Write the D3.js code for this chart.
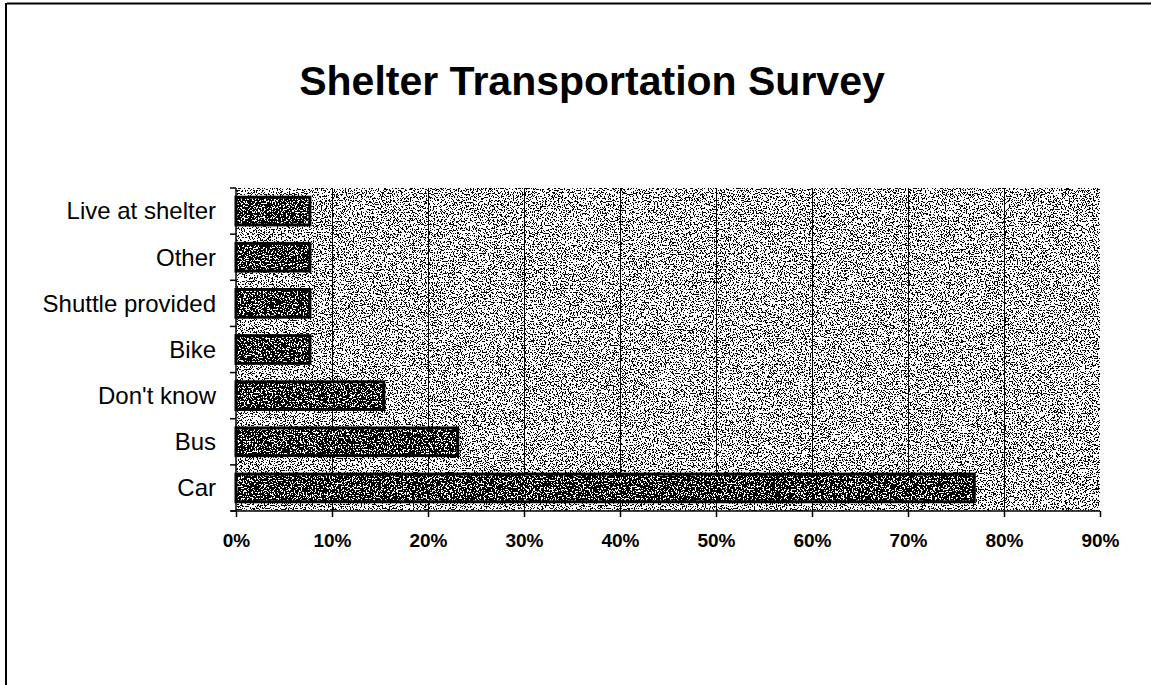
<!DOCTYPE html>
<html>
<head>
<meta charset="utf-8">
<script src="https://cdn.jsdelivr.net/npm/d3@7"></script>
<style>
  body { margin: 0; background: #fff; }
  svg { display: block; font-family: Arial, "Liberation Sans", sans-serif; }
</style>
</head>
<body>
<svg id="chart" width="1151" height="685"></svg>
<script>
// survey answers, top to bottom as drawn
var categories = ['Live at shelter', 'Other', 'Shuttle provided', 'Bike', "Don't know", 'Bus', 'Car'];
var shares = [0.077, 0.077, 0.077, 0.077, 0.154, 0.231, 0.769];
var xTicks = [0, 0.1, 0.2, 0.3, 0.4, 0.5, 0.6, 0.7, 0.8, 0.9];

var data = categories.map(function(c, i) { return { name: c, value: shares[i] }; });

var svg = d3.select('#chart');

var plotLeft = 236, plotRight = 1100, plotTop = 188, plotBottom = 511;

// stipple filters (grainy print look): noise thresholded to black dots
var defs = svg.append('defs');
function stipple(id, threshold, freq) {
  var table = d3.range(100).map(function(i) { return i / 100 < threshold ? 1 : 0; }).join(' ');
  var f = defs.append('filter').attr('id', id)
    .attr('x', 0).attr('y', 0).attr('width', 1).attr('height', 1);
  f.append('feTurbulence').attr('type', 'fractalNoise')
    .attr('baseFrequency', freq).attr('numOctaves', 2).attr('seed', 7).attr('result', 'n');
  f.append('feColorMatrix').attr('in', 'n').attr('type', 'matrix')
    .attr('values', '0 0 0 0 0  0 0 0 0 0  0 0 0 0 0  1 0 0 0 0').attr('result', 'a');
  f.append('feComponentTransfer').attr('in', 'a')
    .append('feFuncA').attr('type', 'discrete').attr('tableValues', table);
}
stipple('stipBg', 0.44, 0.75);
stipple('stipBar', 0.57, 0.65);

var x = d3.scaleLinear().domain([0, 0.9]).range([plotLeft, plotRight]);
var y = d3.scaleBand().domain(categories).range([plotTop, plotBottom])
  .paddingInner(0.4).paddingOuter(0.2);

// outer frame (only top and left edges show)
svg.append('line').attr('x1', 7).attr('x2', 1151).attr('y1', 3.5).attr('y2', 3.5)
  .attr('stroke', '#000').attr('stroke-width', 2);
svg.append('line').attr('x1', 6).attr('x2', 6).attr('y1', 3).attr('y2', 685)
  .attr('stroke', '#000').attr('stroke-width', 2);

// title
svg.append('text')
  .attr('x', 592).attr('y', 95)
  .attr('text-anchor', 'middle')
  .style('font-size', '41px').style('font-weight', 'bold')
  .text('Shelter Transportation Survey');

// plot background
svg.append('rect').attr('x', plotLeft).attr('y', plotTop)
  .attr('width', plotRight - plotLeft).attr('height', plotBottom - plotTop).attr('fill', '#fff');
svg.append('rect').attr('x', plotLeft).attr('y', plotTop)
  .attr('width', plotRight - plotLeft).attr('height', plotBottom - plotTop)
  .attr('fill', '#000').attr('filter', 'url(#stipBg)');

// vertical gridlines
svg.append('g').selectAll('line').data(xTicks.slice(1, -1)).enter()
  .append('line')
  .attr('x1', function(d) { return x(d) + 0.5; }).attr('x2', function(d) { return x(d) + 0.5; })
  .attr('y1', plotTop).attr('y2', plotBottom)
  .attr('stroke', '#000').attr('stroke-width', 1)
  .attr('shape-rendering', 'crispEdges');

// bars
var bars = svg.append('g');
bars.selectAll('.barbase').data(data).enter().append('rect')
  .attr('class', 'barbase')
  .attr('x', x(0)).attr('y', function(d) { return y(d.name); })
  .attr('width', function(d) { return x(d.value) - x(0); })
  .attr('height', y.bandwidth()).attr('fill', '#fff');
bars.selectAll('.bardots').data(data).enter().append('rect')
  .attr('class', 'bardots')
  .attr('x', x(0)).attr('y', function(d) { return y(d.name); })
  .attr('width', function(d) { return x(d.value) - x(0); })
  .attr('height', y.bandwidth()).attr('fill', '#000').attr('filter', 'url(#stipBar)');
bars.selectAll('.barline').data(data).enter().append('rect')
  .attr('class', 'barline')
  .attr('x', x(0)).attr('y', function(d) { return y(d.name); })
  .attr('width', function(d) { return x(d.value) - x(0); })
  .attr('height', y.bandwidth())
  .attr('fill', 'none').attr('stroke', '#000').attr('stroke-width', 3);

// x axis
var xAxis = d3.axisBottom(x).tickValues(xTicks).tickFormat(d3.format('.0%'))
  .tickSize(6).tickPadding(17);
var gx = svg.append('g').attr('transform', 'translate(0,' + plotBottom + ')').call(xAxis);
gx.select('.domain').attr('stroke-width', 1.5).attr('d', 'M' + (plotLeft - 5) + ',0H' + plotRight);
gx.selectAll('.tick line').attr('stroke-width', 1.5);
gx.selectAll('.tick text').attr('fill', '#000')
  .style('font-size', '19px').style('font-weight', 'bold')
  .style('font-family', 'Arial, "Liberation Sans", sans-serif');

// y axis: ticks sit between categories
var gy = svg.append('g');
gy.append('line').attr('x1', plotLeft).attr('x2', plotLeft).attr('y1', plotTop).attr('y2', plotBottom)
  .attr('stroke', '#000').attr('stroke-width', 1.5);
var edges = d3.range(categories.length + 1).map(function(i) {
  return plotTop + i * (plotBottom - plotTop) / categories.length;
});
gy.selectAll('.ytick').data(edges).enter().append('line')
  .attr('x1', plotLeft - 6).attr('x2', plotLeft)
  .attr('y1', function(d) { return d; }).attr('y2', function(d) { return d; })
  .attr('stroke', '#000').attr('stroke-width', 1.5);
gy.selectAll('.ylabel').data(categories).enter().append('text')
  .attr('x', 216)
  .attr('y', function(d) { return y(d) + y.bandwidth() / 2; })
  .attr('dy', '0.35em')
  .attr('text-anchor', 'end')
  .style('font-size', '24px')
  .text(function(d) { return d; });
</script>
</body>
</html>
